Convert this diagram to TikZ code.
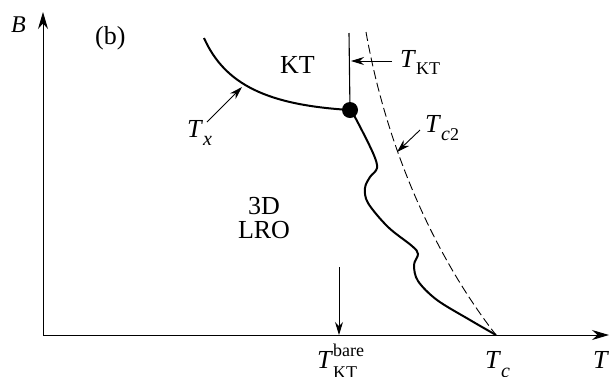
\documentclass[tikz,border=0pt]{standalone}
\usepackage{fontspec}
\setmainfont{Liberation Serif}
\usetikzlibrary{arrows.meta}
\newcommand{\lbl}{\fontsize{26}{22}\selectfont}
\newcommand{\sbs}[1]{\raisebox{-7pt}{\fontsize{18}{18}\selectfont #1}}
\tikzset{
  axis/.style={line width=1pt,-{Stealth[length=17pt,width=10pt]}},
  pointer/.style={line width=0.9pt,-{Stealth[length=13pt,width=8pt]}},
  curve/.style={line width=2pt},
  txt/.style={inner sep=0pt,anchor=base west,font=\lbl},
}
\begin{document}
\begin{tikzpicture}[x=1pt,y=-1pt]
\useasboundingbox (0,0) rectangle (613,376);
\clip (0,0) rectangle (613,376);
% axes
\coordinate (O) at (43,335);
\coordinate (ytop) at (43,12);
\coordinate (xend) at (609,335);
\draw[axis] (O) -- (ytop);
\draw[axis] (O) -- (xend);
% labels
\node[txt] (B) at (11,32) {{\fontsize{24}{24}\selectfont\itshape B}};
\node[txt] (b) at (95,44) {(b)};
\node[txt] (KT) at (280,73) {KT};
\node[inner sep=0pt,anchor=base,font=\lbl] (d3) at (264,214) {3D};
\node[inner sep=0pt,anchor=base,font=\lbl] (lro) at (264,238) {LRO};
\node[txt] (Tkt) at (400,67) {\textit{T}\sbs{KT}};
\node[txt] (Tc2) at (425,132) {\textit{T}\raisebox{-8pt}{\fontsize{20}{20}\selectfont\itshape c}\raisebox{-8pt}{\fontsize{18}{18}\selectfont 2}};
\node[txt] (Tx) at (187,137) {\textit{T}\raisebox{-8pt}{\fontsize{20}{20}\selectfont\itshape x}};
\node[txt] (Tbare) at (317,368) {\textit{T}\rlap{\raisebox{12pt}{\fontsize{18}{18}\selectfont bare}}\raisebox{-10pt}{\fontsize{18}{18}\selectfont KT}};
\node[txt] (Tc) at (485,368) {\textit{T}\raisebox{-9pt}{\fontsize{20}{20}\selectfont\itshape c}};
\node[txt] (T) at (593,368) {\textit{T}};
% key points
\coordinate (Tcpt) at (496,335);
\coordinate (dotc) at (350,110);
\coordinate (vtop) at (349,33);
% KT vertical line
\draw[line width=1.1pt] (dotc) -- (vtop);
% Tx curve
\draw[curve] (204,38) .. controls (225,85) and (268,105) .. (dotc);
% lower solid curve
\draw[curve] plot[smooth,tension=0.55] coordinates {(350,110) (356,119) (373,153) (377,168) (370,177) (365,188) (368,203) (388,227) (412,246) (418,254) (414,265) (418,281) (437,300) (470,320) (496,335)};
% dashed Tc2 curve
\draw[line width=0.9pt,dash pattern=on 9pt off 4pt] (366,32) .. controls (385,140) and (430,250) .. (Tcpt);
% dot
\fill (dotc) circle (8);
% pointers
\coordinate (tktA) at (392,61);
\coordinate (tktB) at (351,61);
\draw[pointer] (tktA) -- (tktB);
\coordinate (tc2A) at (420,130);
\coordinate (tc2B) at (397,152);
\draw[pointer] (tc2A) -- (tc2B);
\coordinate (txA) at (207,122);
\coordinate (txB) at (242,87);
\draw[pointer] (txA) -- (txB);
\coordinate (bareA) at (339,267);
\coordinate (bareB) at (339,335);
\draw[pointer] (bareA) -- (bareB);
\end{tikzpicture}
\end{document}
